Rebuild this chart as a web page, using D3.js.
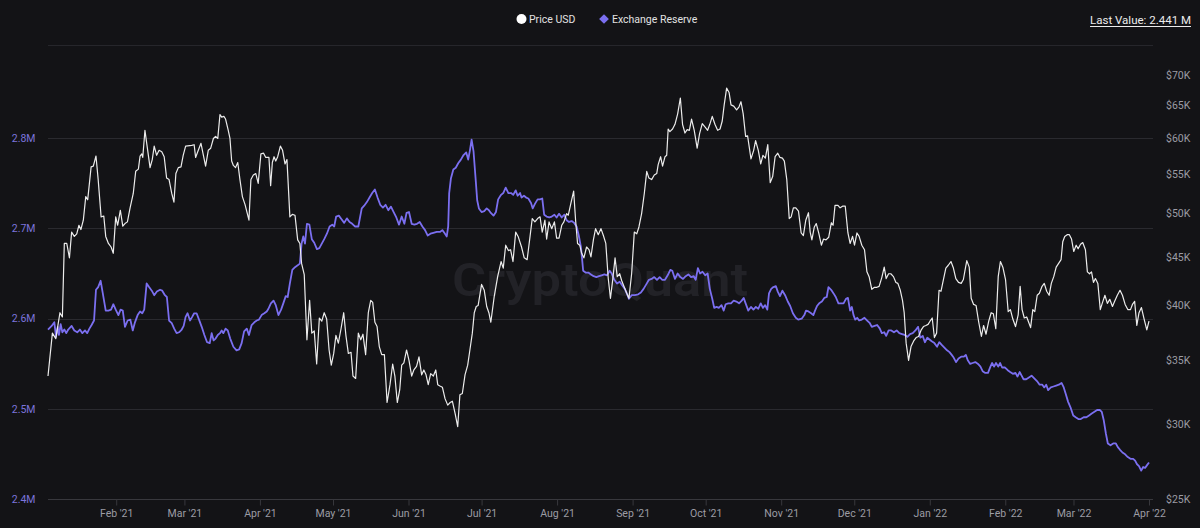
<!DOCTYPE html>
<html>
<head>
<meta charset="utf-8">
<script src="https://cdn.jsdelivr.net/npm/d3@7"></script>
<style>
  html, body { margin: 0; padding: 0; background: #131316; }
  svg { display: block; }
  text { font-family: Roboto, "Noto Sans", sans-serif; }
</style>
</head>
<body>
<svg id="chart" width="1200" height="528"></svg>
<script>
// ---- DATA (day offsets from the first plotted day, 2021-01-04) ----
const startDate = "2021-01-04";
const endDate = "2022-04-01";

const priceDays = [
0,1.8,3.2,4.9,5.9,6.7,7.7,8.8,9.7,10.8,
11.8,12.7,13.5,14.5,15.5,16.3,17.7,18.6,19.7,20.6,
21.8,22.9,23.7,24.8,25.9,26.8,27.8,28.6,29.7,30.7,
31.6,32.6,33.7,35,36,37.1,37.8,38.5,38.9,39.8,
40.6,41.9,42.8,43.6,44.6,45.6,46.7,47.7,48.7,49.7,
50.8,51.7,52.5,53.5,54.6,55.5,56.5,59,60,60.6,
61.7,62.8,63.8,64.7,65.8,66.8,67.9,68.8,69.7,70.6,
71.3,72.2,72.9,74,74.7,75.4,76.1,77,77.9,78.8,
79.8,80.9,82.5,83.3,84.3,85.3,86.3,87.4,88.5,89.4,
90.7,91.4,92.1,92.8,93.5,94.3,95.4,96.3,97.3,98.1,
99.3,100.3,101.4,102.5,103.4,104.1,105.2,106.3,107.4,108.3,
109.3,110.3,111.4,112.4,113.4,114.4,115.4,116.3,117.3,118.2,
119.2,120.3,121.4,122.3,123.3,124.4,125.2,126.3,127.4,128.4,
129.3,130.4,131.5,132.5,133.3,134.2,135.1,136,137,138.1,
139.2,140.4,141.5,142.4,143.4,144.4,145.2,146.1,147.2,148.2,
149.3,150.2,151.3,152.3,153.4,154.3,155.2,156.1,157.1,158.2,
159.2,160,160.9,161.9,163,164.1,165.1,166,167.1,168.2,
169.1,170.1,171.2,172.3,173.2,174.2,175,175.8,176.6,178,
179.1,180.1,181,181.8,183.2,184.6,186,186.9,187.9,189,
189.9,190.9,192,193,194.4,195.5,196.7,197.9,198.8,199.9,
201,202,202.9,204,204.7,205.7,206.8,207.9,208.8,209.8,
210.9,211.8,212.9,213.6,214.7,215.8,216.6,217.4,218.3,219.1,
220,221.1,222.1,222.9,223.9,224.8,225.9,227,228,229,
230,230.9,231.8,232.8,233.7,234.7,235.5,236.6,237.6,238.5,
239.6,240.7,241.7,242.6,243.7,244.8,245.8,246.7,247.8,248.9,
249.9,250.5,251.5,252.3,253.3,254,254.6,255.3,256.4,257.4,
258.5,259.6,260.5,261.5,262.4,263.3,264.2,265.3,266.5,267.5,
268.6,269.7,270.8,271.7,272.7,273.8,274.9,275.9,276.8,277.6,
278.6,279.6,280.4,281.5,282.7,283.7,284.5,285.4,286.4,287.2,
288.6,289.7,290.5,291.6,292.6,293.5,294.5,295.5,296.5,297.5,
298.5,299.6,300.5,301.5,302.3,303.3,304.3,305.1,306,307,
308.1,309.2,310.1,311.1,312.2,312.9,313.6,314.6,315.4,316.4,
317.5,318.4,319.4,320.5,321.6,322.3,323.1,324.3,325.2,326.2,
327.3,328.4,329.3,330.3,331.1,332.1,333,334.1,335.2,336.2,
337.1,338.2,339.3,340.3,341.2,342.3,343.3,344.1,345.1,346,
347.1,348.1,348.9,349.9,350.8,351.5,352.3,353.3,354.3,355.4,
356.4,357.4,358.5,359.4,360.4,361.3,362.1,363,363.9,364.8,
365.8,366.6,367.6,368.6,369.6,370.7,371.7,372.7,373.8,374.9,
375.8,376.5,377.2,378.2,379,380,381,382.1,383.2,384.1,
385.1,386.2,387.2,388.1,389.1,390.1,391,392,393.1,394.2,
395.1,396.1,397.2,398.3,399.1,399.9,400.8,401.8,402.6,403.4,
404.3,405.1,406.1,407,408.1,409,410,411,411.9,412.9,
413.9,414.9,415.9,416.6,417.4,418.4,419.3,420.2,421.1,422.1,
422.9,423.9,424.8,425.9,426.7,427.6,428.4,429.2,430,431,
432,432.8,433.9,434.9,435.9,437,437.9,439,440.1,441.1,
442.2,443.3,444.4,445.2,446.1,447,447.9,448.9,450,451.1,
452
];
// Price USD, in thousands of dollars
const priceK = [
33.7,37.4,36.9,39.3,38.9,46.5,46.5,44.9,47.8,47.3,
47.6,48.6,48.1,49.2,52.1,51.7,56.0,56.1,57.5,54.3,
49.6,49.7,47.3,46.5,46.1,45.4,49.6,48.6,50.4,48.5,
48.8,49.0,50.7,52.5,55.4,55.7,57.5,57.8,57.3,61.2,
59.1,55.9,57.0,58.9,57.6,58.3,58.1,57.4,54.5,54.3,
52.5,51.4,55.1,55.9,56.0,57.6,58.9,59.0,59.1,57.3,
58.3,59.3,57.6,56.1,58.3,58.6,60.0,60.3,60.0,63.6,
63.2,63.3,62.9,61.2,60.0,56.8,56.2,55.9,56.6,54.3,
52.1,51.1,49.2,54.3,54.9,55.1,53.8,57.8,57.9,57.3,
57.3,53.5,56.6,57.4,56.8,57.4,58.9,58.3,56.4,57.0,
49.6,49.9,49.8,46.9,46.5,44.3,43.1,36.8,40.5,37.4,
37.6,34.7,38.8,38.5,39.3,38.7,35.9,34.6,35.6,37.2,
36.5,37.8,39.3,37.2,35.6,35.7,33.7,33.5,37.4,36.8,
37.3,35.5,39.3,40.5,40.3,38.4,38.0,36.2,35.5,35.5,
31.6,33.0,34.7,33.7,31.6,32.6,34.6,34.8,35.9,35.0,
33.7,34.2,34.5,35.3,33.8,34.2,33.8,33.0,33.9,33.7,
34.2,33.0,32.9,32.8,31.9,31.4,31.6,31.7,30.8,29.8,
32.2,32.3,33.8,34.6,35.9,37.4,39.3,39.9,40.0,42.1,
41.5,39.9,39.3,38.4,40.9,42.9,44.5,43.8,46.3,45.7,
45.8,44.5,47.8,47.3,46.1,44.9,44.7,47.3,49.4,49.0,
49.4,49.6,47.8,49.2,47.0,49.0,48.2,49.0,47.1,47.1,
48.6,49.0,50.0,49.8,51.3,52.8,49.2,46.5,46.3,45.4,
44.9,46.1,45.8,45.0,46.9,48.2,47.5,48.2,47.4,46.5,
42.7,40.7,42.5,44.9,42.9,43.2,42.5,41.8,41.2,40.7,
43.2,47.8,47.6,48.4,50.0,52.5,55.4,54.5,54.3,54.9,
55.1,56.3,57.4,56.1,57.4,57.6,61.4,61.0,61.4,62.1,
63.7,66.2,62.1,60.8,61.3,61.2,62.9,61.2,58.6,60.7,
62.2,61.7,61.2,62.1,63.3,62.1,61.2,61.4,62.6,65.1,
67.8,67.1,65.1,64.9,64.3,64.8,65.6,63.7,60.3,60.4,
57.1,58.3,59.7,58.3,56.4,57.6,57.2,59.1,53.9,54.7,
57.4,57.9,57.3,57.2,56.8,54.3,49.4,49.6,50.7,50.7,
50.3,47.7,47.4,49.2,50.1,47.8,46.9,48.4,48.8,47.7,
46.3,47.0,46.9,47.2,48.9,48.6,51.0,51.0,50.7,50.9,
50.9,47.7,46.5,47.3,46.3,47.7,47.3,46.3,45.8,43.4,
42.9,41.6,41.8,41.8,41.9,42.8,43.9,42.7,43.2,43.2,
42.9,42.3,42.2,41.5,40.5,39.3,36.5,35.0,36.2,36.7,
37.0,37.1,37.7,38.0,38.1,38.2,38.5,38.8,37.0,37.4,
41.5,41.4,42.6,43.8,44.1,44.5,43.8,42.7,42.3,42.2,
42.6,43.6,44.6,43.9,40.7,40.1,40.0,38.4,37.1,38.1,
37.3,38.5,39.3,39.2,37.8,42.9,44.5,43.9,42.6,39.4,
39.6,38.7,38.0,39.1,41.9,39.6,38.8,38.9,38.4,37.9,
39.6,39.4,41.0,41.2,41.9,42.2,41.4,41.0,42.2,42.9,
43.9,44.3,44.7,46.7,47.3,47.5,47.5,47.0,45.6,46.3,
45.9,46.4,46.6,45.8,43.4,43.2,43.4,42.3,42.7,42.2,
39.6,40.2,41.0,40.2,40.6,39.9,40.4,41.0,41.5,41.0,
40.1,39.6,39.6,40.1,40.4,38.1,39.3,39.8,38.7,37.7,
38.5
];

const reserveDays = [
0,1.5,2.6,3.3,4,4.5,5.2,5.9,6.7,7.5,
8.3,9.7,10.8,12,13.1,14.1,15.2,16.1,17,17.9,
18.9,19.7,20.6,21.6,22.5,23.7,24.8,25.9,26.8,27.8,
28.9,29.8,30.7,31.6,32.7,33.8,34.8,35.7,36.8,37.8,
38.7,39.5,40.5,41.5,42.6,43.6,44.7,46,46.9,48,
48.8,49.7,50.8,51.8,52.8,53.8,54.9,55.7,56.5,57.3,
58.3,59.2,60,61,62,63.1,64.2,65.3,66.4,67.2,
68,68.8,69.7,70.6,71.3,72,72.9,73.8,74.8,76.1,
77.4,78.5,79.5,80.5,81.6,82.5,83.6,84.7,85.7,86.6,
87.7,88.8,89.8,90.5,91.5,92.6,93.5,94.6,95.7,96.6,
97.6,98.4,99.3,100.3,101.4,102.5,103.4,104.1,104.8,105.5,
106.3,107.3,108.3,109.3,110.4,111.4,112.4,113.4,114.5,115.6,
116.7,117.5,118.3,119.4,120.5,121.6,122.7,123.8,124.9,126,
127.4,128.8,129.8,130.9,132,133.1,134.2,135.3,136.4,137.5,
138.6,139.7,140.8,141.9,143,144.1,145.2,146.3,147.2,148.2,
149.3,150.4,151.5,152.6,153.7,154.8,155.9,157,158.2,159.6,
160.9,161.9,162.7,163.7,164.3,164.7,165.4,166.4,167.4,168.4,
169.5,170.6,171.7,172.5,173.2,173.9,174.7,175.6,176.2,176.9,
178,179.1,180.1,181,181.8,182.9,183.9,184.8,186,186.9,
187.9,189,190.1,191,192,192.8,193.8,194.4,195.4,196.3,
197.2,198.3,199,199.9,201,202,202.9,203.7,204.7,205.8,
206.8,207.9,208.8,209.8,210.9,212,212.9,213.9,215,216,
217,217.9,218.8,219.3,219.7,220.7,221.8,222.9,224,225.1,
226.2,227.3,228.4,229.5,230.6,231.4,232.5,233.6,234.7,235.7,
236.8,237.6,238.5,239.6,240.9,242.3,243.4,244.5,245.6,246.7,
247.8,248.9,250,251.1,252.2,253.3,254.4,255.5,256.3,257.4,
258.5,259.6,260.7,261.8,262.9,264,265.1,265.9,266.8,267.7,
268.7,269.8,270.8,271.7,272.7,273.5,274.5,275.4,276.5,277.4,
278.2,279.3,280.4,281.5,282.6,283.7,284.8,285.6,286.4,287.5,
288.6,289.6,290.6,291.6,292.6,293.5,294.4,295.3,296,296.9,
297.8,298.8,299.6,300.5,301.5,302.6,303.7,304.7,305.8,307,
308,309.4,310.5,311.2,312.2,313.3,314.2,314.9,315.7,316.6,
317.7,318.7,319.7,320.4,321.5,322.5,323.4,324.5,325.6,326.6,
327.6,328.4,329.3,330,330.7,331.4,332.2,333,334.1,335.2,
336.3,337.4,338.2,339.3,340.4,341.5,342.3,343.3,344.1,345.1,
346.2,347.3,348.4,349.5,350.6,351.7,352.8,353.9,355,356.1,
357.2,358.1,359.1,360,361,361.9,362.8,363.9,365,365.9,
366.9,368,369.1,370.1,371,371.8,372.8,373.8,374.9,376,
376.8,377.6,378.6,379.6,380.7,381.8,382.8,383.7,384.8,385.9,
386.9,387.6,388.4,389.2,390.1,390.9,391.7,392.9,394,395,
396.1,397.2,398,398.9,399.7,400.5,401.6,402.7,403.8,404.9,
406,407.1,408.2,409,409.8,410.6,411.7,412.8,413.9,415,
416.1,417,417.8,418.8,419.9,420.9,421.9,423,424,425.2,
426.3,427.4,428.5,429.6,430.7,431.8,432.6,433.4,434.3,435.1,
436.2,437.3,438.4,439.2,440.1,441.1,442.2,443.3,444.4,445.5,
446.3,447.1,447.9,448.8,449.6,450.4,451.2,452
];
// Exchange Reserve, in millions
const reserveM = [
2.588,2.592,2.596,2.580,2.591,2.582,2.594,2.585,2.588,2.584,
2.588,2.592,2.587,2.585,2.588,2.584,2.587,2.584,2.589,2.593,
2.598,2.632,2.635,2.642,2.628,2.609,2.609,2.610,2.616,2.610,
2.604,2.610,2.609,2.591,2.598,2.599,2.587,2.596,2.604,2.608,
2.606,2.610,2.639,2.635,2.631,2.626,2.630,2.632,2.631,2.626,
2.624,2.598,2.595,2.589,2.584,2.585,2.588,2.592,2.602,2.606,
2.598,2.602,2.606,2.606,2.599,2.591,2.582,2.574,2.573,2.584,
2.576,2.578,2.582,2.584,2.587,2.584,2.589,2.587,2.578,2.569,
2.565,2.566,2.573,2.586,2.589,2.582,2.593,2.596,2.598,2.599,
2.604,2.606,2.608,2.611,2.617,2.620,2.615,2.604,2.610,2.617,
2.625,2.624,2.639,2.654,2.657,2.659,2.661,2.683,2.691,2.683,
2.705,2.704,2.688,2.684,2.677,2.678,2.683,2.688,2.694,2.702,
2.704,2.702,2.713,2.714,2.710,2.706,2.711,2.707,2.705,2.702,
2.702,2.722,2.725,2.729,2.734,2.739,2.743,2.734,2.726,2.723,
2.726,2.720,2.724,2.718,2.712,2.704,2.713,2.705,2.717,2.718,
2.705,2.704,2.705,2.707,2.702,2.698,2.692,2.694,2.695,2.696,
2.696,2.698,2.695,2.691,2.702,2.739,2.755,2.765,2.767,2.772,
2.776,2.781,2.784,2.776,2.786,2.798,2.785,2.753,2.731,2.722,
2.718,2.719,2.722,2.720,2.717,2.714,2.718,2.732,2.737,2.739,
2.745,2.739,2.739,2.737,2.742,2.736,2.739,2.734,2.736,2.734,
2.733,2.728,2.722,2.727,2.732,2.732,2.733,2.715,2.713,2.712,
2.713,2.715,2.712,2.716,2.712,2.715,2.709,2.707,2.708,2.706,
2.702,2.692,2.679,2.665,2.653,2.651,2.651,2.649,2.647,2.646,
2.647,2.648,2.649,2.648,2.653,2.650,2.643,2.639,2.641,2.637,
2.633,2.628,2.622,2.626,2.626,2.627,2.629,2.633,2.638,2.643,
2.644,2.646,2.643,2.646,2.643,2.643,2.648,2.654,2.653,2.644,
2.650,2.646,2.644,2.647,2.649,2.646,2.647,2.643,2.656,2.650,
2.652,2.648,2.650,2.633,2.622,2.612,2.613,2.612,2.615,2.609,
2.616,2.617,2.617,2.620,2.619,2.617,2.620,2.623,2.617,2.609,
2.613,2.610,2.613,2.611,2.617,2.612,2.615,2.610,2.628,2.633,
2.635,2.636,2.630,2.625,2.631,2.626,2.619,2.614,2.606,2.601,
2.599,2.600,2.604,2.609,2.608,2.606,2.604,2.609,2.614,2.617,
2.619,2.623,2.624,2.635,2.632,2.628,2.624,2.617,2.617,2.617,
2.622,2.623,2.609,2.613,2.604,2.599,2.601,2.598,2.599,2.601,
2.598,2.595,2.591,2.592,2.593,2.589,2.584,2.585,2.581,2.587,
2.587,2.585,2.587,2.584,2.583,2.582,2.580,2.583,2.584,2.587,
2.591,2.579,2.581,2.574,2.579,2.577,2.575,2.573,2.569,2.574,
2.571,2.568,2.565,2.563,2.560,2.557,2.552,2.556,2.558,2.558,
2.560,2.554,2.550,2.551,2.552,2.550,2.547,2.542,2.540,2.540,
2.547,2.551,2.547,2.551,2.547,2.551,2.546,2.546,2.543,2.541,
2.539,2.540,2.536,2.541,2.537,2.533,2.533,2.535,2.537,2.534,
2.531,2.527,2.527,2.524,2.527,2.521,2.524,2.525,2.526,2.527,
2.529,2.524,2.517,2.508,2.501,2.493,2.491,2.489,2.489,2.491,
2.491,2.493,2.495,2.497,2.499,2.499,2.497,2.488,2.473,2.462,
2.460,2.462,2.462,2.458,2.455,2.452,2.450,2.447,2.445,2.445,
2.443,2.439,2.437,2.432,2.436,2.435,2.438,2.441
];

const reserveTicks = [2.4, 2.5, 2.6, 2.7, 2.8];
const priceTicks = [25, 30, 35, 40, 45, 50, 55, 60, 65, 70];
const legendLabels = ["Price USD", "Exchange Reserve"];
const lastValueLabel = "Last Value: 2.441 M";

// ---- RENDER ----
const svg = d3.select("#chart");
const W = 1200, H = 528;
const left = 48, right = 1149, gridRight = 1153;

const t0 = new Date(startDate + "T00:00:00Z");
const t1 = new Date(endDate + "T00:00:00Z");
const toDate = d => new Date(t0.getTime() + d * 864e5);

const x = d3.scaleUtc().domain([t0, t1]).range([left, right]);
const yR = d3.scaleLinear().domain([2.4, 2.9]).range([499.5, 47.5]);
const yP = d3.scaleLog().domain([25, 70]).range([499, 75]);

svg.append("rect").attr("width", W).attr("height", H).attr("fill", "#131316");

// watermark
svg.append("text")
  .attr("x", 600).attr("y", 296)
  .attr("text-anchor", "middle")
  .attr("font-size", 46).attr("font-weight", 600)
  .attr("textLength", 296).attr("lengthAdjust", "spacingAndGlyphs")
  .attr("fill", "#222227")
  .text("CryptoQuant");

// top border line
svg.append("line").attr("x1", left).attr("x2", gridRight)
  .attr("y1", 45.5).attr("y2", 45.5).attr("stroke", "#26262b").attr("stroke-width", 1);

// gridlines (left axis ticks)
svg.append("g").selectAll("line").data(reserveTicks.slice(1)).join("line")
  .attr("x1", left).attr("x2", gridRight)
  .attr("y1", d => Math.round(yR(d)) + 0.5).attr("y2", d => Math.round(yR(d)) + 0.5)
  .attr("stroke", "#2a2a2f").attr("stroke-width", 1);

// left axis labels
svg.append("g").selectAll("text").data(reserveTicks).join("text")
  .attr("x", 35.5).attr("y", d => yR(d))
  .attr("dy", "0.35em").attr("text-anchor", "end")
  .attr("font-size", 10.5).attr("fill", "#7c74dc")
  .text(d => d3.format(".1f")(d) + "M");

// right axis labels
svg.append("g").selectAll("text").data(priceTicks).join("text")
  .attr("x", 1166).attr("y", d => yP(d))
  .attr("dy", "0.35em").attr("text-anchor", "start")
  .attr("font-size", 10.5).attr("fill", "#9c9ca4")
  .text(d => "$" + d + "K");

// bottom axis
const xAxis = d3.axisBottom(x)
  .ticks(d3.utcMonth.every(1))
  .tickFormat(d3.utcFormat("%b '%y"))
  .tickSize(6).tickSizeOuter(0);
const gx = svg.append("g").attr("transform", "translate(0,499.5)").call(xAxis);
gx.select(".domain").attr("stroke", "#38383d").attr("d", `M${left},0H${gridRight}`);
gx.selectAll(".tick").filter(d => d < new Date("2021-01-15T00:00:00Z")).remove();
gx.selectAll(".tick line").attr("stroke", "#38383d");
gx.selectAll(".tick text").attr("fill", "#9c9ca4").attr("font-size", 10.5)
  .attr("font-family", "Roboto, 'Noto Sans', sans-serif").attr("y", 10);

// series
const reserveData = reserveDays.map((d, i) => ({ t: toDate(d), v: reserveM[i] }));
const priceData = priceDays.map((d, i) => ({ t: toDate(d), v: priceK[i] }));

svg.append("path").datum(reserveData)
  .attr("fill", "none").attr("stroke", "#7b6ff0").attr("stroke-width", 1.8)
  .attr("stroke-linejoin", "round")
  .attr("d", d3.line().x(d => x(d.t)).y(d => yR(d.v)));

svg.append("path").datum(priceData)
  .attr("fill", "none").attr("stroke", "#ececec").attr("stroke-width", 1.2)
  .attr("stroke-linejoin", "round")
  .attr("d", d3.line().x(d => x(d.t)).y(d => yP(d.v)));

// legend
const lg = svg.append("g");
lg.append("circle").attr("cx", 521.5).attr("cy", 19).attr("r", 5).attr("fill", "#ffffff");
lg.append("text").attr("x", 529).attr("y", 19).attr("dy", "0.35em")
  .attr("font-size", 10.5).attr("fill", "#e2e2e2").text(legendLabels[0]);
lg.append("path").attr("d", d3.symbol().type(d3.symbolDiamond2).size(60)())
  .attr("transform", "translate(604,19)").attr("fill", "#7b6ff0");
lg.append("text").attr("x", 612).attr("y", 19).attr("dy", "0.35em")
  .attr("font-size", 10.5).attr("fill", "#e2e2e2").text(legendLabels[1]);

// last value
const lv = svg.append("text").attr("x", 1191).attr("y", 20).attr("dy", "0.35em")
  .attr("text-anchor", "end").attr("font-size", 11.5).attr("fill", "#ececec")
  .text(lastValueLabel);
const bb = lv.node().getBBox();
svg.append("line").attr("x1", bb.x).attr("x2", bb.x + bb.width)
  .attr("y1", 26.5).attr("y2", 26.5).attr("stroke", "#ececec").attr("stroke-width", 1);
</script>
</body>
</html>
